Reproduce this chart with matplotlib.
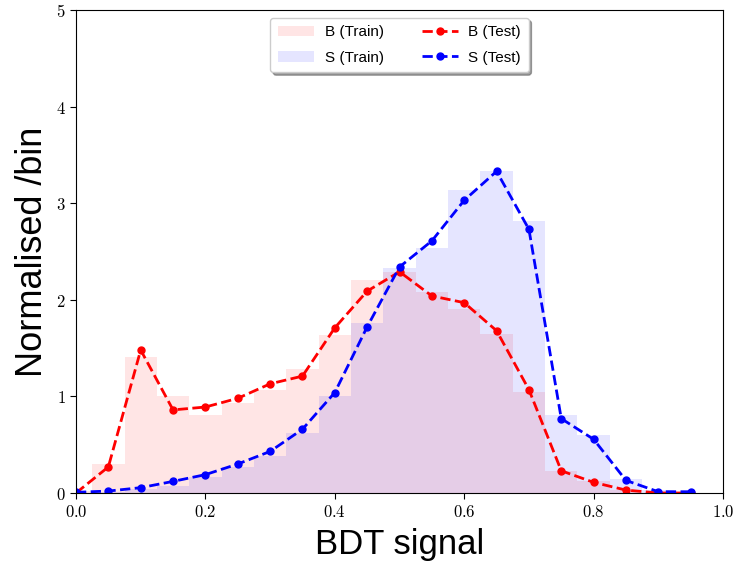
import numpy as np
import matplotlib
matplotlib.use("Agg")
import matplotlib.pyplot as plt
from matplotlib.ticker import FuncFormatter

# BDT output bin centres (bin width 0.05)
bdt_centres = [0.00, 0.05, 0.10, 0.15, 0.20, 0.25, 0.30, 0.35, 0.40, 0.45,
               0.50, 0.55, 0.60, 0.65, 0.70, 0.75, 0.80, 0.85, 0.90, 0.95]
bin_width = 0.05

# Training samples (normalised per bin)
bkg_train = [0.02, 0.30, 1.41, 1.00, 0.81, 0.93, 1.07, 1.28, 1.64, 2.21,
             2.29, 2.08, 1.90, 1.65, 1.045, 0.23, 0.12, 0.03, 0.005, 0.0]
sig_train = [0.005, 0.015, 0.04, 0.07, 0.17, 0.27, 0.38, 0.62, 1.00, 1.76,
             2.33, 2.54, 3.14, 3.33, 2.82, 0.81, 0.60, 0.14, 0.03, 0.005]

# Test samples (normalised per bin)
bkg_test = [0.0, 0.27, 1.48, 0.86, 0.89, 0.98, 1.13, 1.21, 1.71, 2.09,
            2.29, 2.04, 1.97, 1.68, 1.07, 0.23, 0.11, 0.03, 0.0, 0.0]
sig_test = [0.007, 0.02, 0.055, 0.12, 0.19, 0.30, 0.43, 0.66, 1.04, 1.72,
            2.34, 2.61, 3.03, 3.33, 2.73, 0.77, 0.556, 0.13, 0.013, 0.013]

x_ticks = [0.0, 0.2, 0.4, 0.6, 0.8, 1.0]
y_ticks = [0, 1, 2, 3, 4, 5]

plt.rcParams['mathtext.fontset'] = 'cm'
label_font = 'Liberation Sans'

fig = plt.figure(figsize=(7.35, 5.66), dpi=100)
ax = fig.add_axes([0.1034, 0.129, 0.8803, 0.8533])

edges = np.concatenate([np.array(bdt_centres) - bin_width / 2,
                        [bdt_centres[-1] + bin_width / 2]])

ax.hist(bdt_centres, bins=edges, weights=bkg_train, histtype='stepfilled',
        color='red', alpha=0.1, label='B (Train)')
ax.hist(bdt_centres, bins=edges, weights=sig_train, histtype='stepfilled',
        color='blue', alpha=0.1, label='S (Train)')

ax.plot(bdt_centres, bkg_test, '--o', color='red', lw=2, ms=5, label='B (Test)')
ax.plot(bdt_centres, sig_test, '--o', color='blue', lw=2, ms=5, label='S (Test)')

ax.set_xlim(0, 1)
ax.set_ylim(0, 5)
ax.set_xticks(x_ticks)
ax.set_yticks(y_ticks)
ax.xaxis.set_major_formatter(FuncFormatter(lambda v, p: f'${v:.1f}$'))
ax.yaxis.set_major_formatter(FuncFormatter(lambda v, p: f'${int(v)}$'))
ax.tick_params(axis='both', direction='out', labelsize=12, length=4)

ax.set_xlabel('BDT signal', fontsize=25, family=label_font, labelpad=5)
ax.set_ylabel('Normalised /bin', fontsize=26, family=label_font, labelpad=4)

leg = ax.legend(loc='upper center', ncol=2, shadow=True, fancybox=True,
                prop={'family': label_font, 'size': 11},
                handlelength=2.35, handletextpad=0.7, columnspacing=2.5,
                labelspacing=0.75, borderpad=0.5)

fig.savefig('out.png', dpi=100)
